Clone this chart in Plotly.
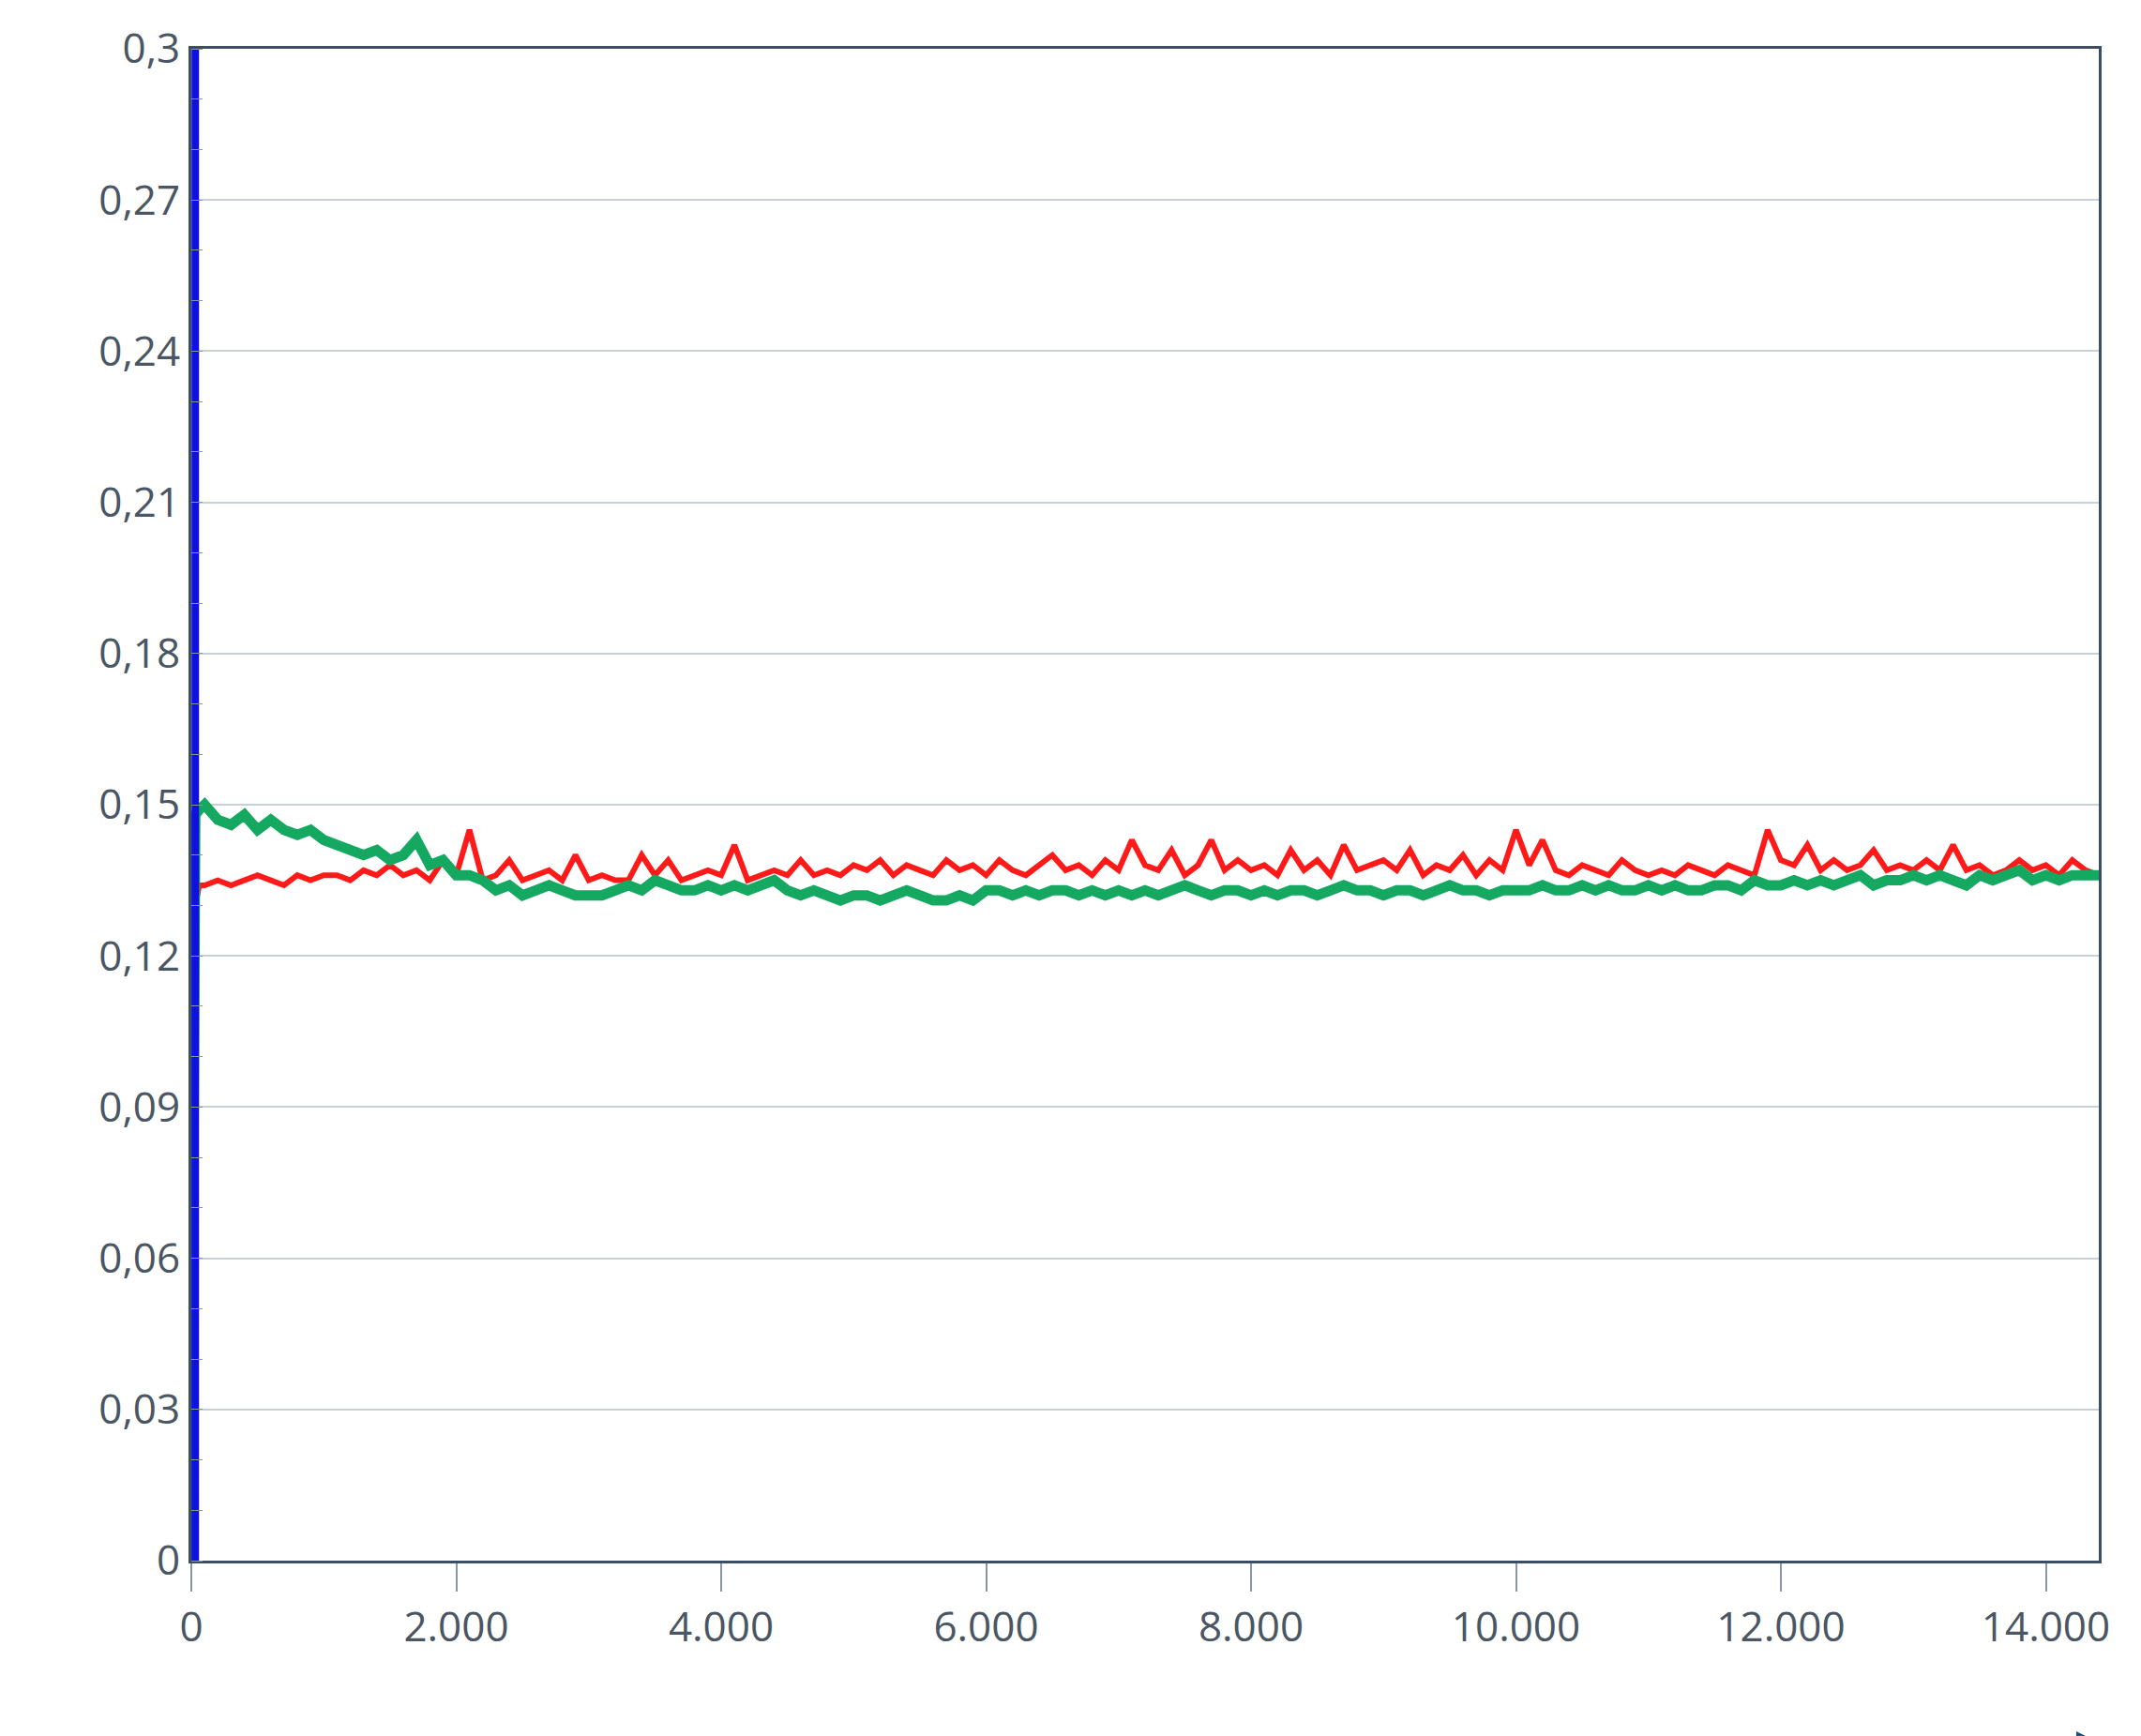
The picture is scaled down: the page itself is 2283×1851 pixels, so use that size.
import plotly.graph_objects as go

time_start = [0, 30, 60]
red_start = [0.0, 0.130, 0.134]
green_start = [0.0, 0.148, 0.149]
time_main = list(range(100, 14401, 100))
red_main = [
0.134,0.135,0.134,0.135,0.136,0.135,0.134,0.136,0.135,0.136,
0.136,0.135,0.137,0.136,0.138,0.136,0.137,0.135,0.139,0.136,
0.145,0.135,0.136,0.139,0.135,0.136,0.137,0.135,0.140,0.135,
0.136,0.135,0.135,0.140,0.136,0.139,0.135,0.136,0.137,0.136,
0.142,0.135,0.136,0.137,0.136,0.139,0.136,0.137,0.136,0.138,
0.137,0.139,0.136,0.138,0.137,0.136,0.139,0.137,0.138,0.136,
0.139,0.137,0.136,0.138,0.140,0.137,0.138,0.136,0.139,0.137,
0.143,0.138,0.137,0.141,0.136,0.138,0.143,0.137,0.139,0.137,
0.138,0.136,0.141,0.137,0.139,0.136,0.142,0.137,0.138,0.139,
0.137,0.141,0.136,0.138,0.137,0.140,0.136,0.139,0.137,0.145,
0.138,0.143,0.137,0.136,0.138,0.137,0.136,0.139,0.137,0.136,
0.137,0.136,0.138,0.137,0.136,0.138,0.137,0.136,0.145,0.139,
0.138,0.142,0.137,0.139,0.137,0.138,0.141,0.137,0.138,0.137,
0.139,0.137,0.142,0.137,0.138,0.136,0.137,0.139,0.137,0.138,
0.136,0.139,0.137,0.136]
green_main = [
0.150,0.147,0.146,0.148,0.145,0.147,0.145,0.144,0.145,0.143,
0.142,0.141,0.140,0.141,0.139,0.140,0.143,0.138,0.139,0.136,
0.136,0.135,0.133,0.134,0.132,0.133,0.134,0.133,0.132,0.132,
0.132,0.133,0.134,0.133,0.135,0.134,0.133,0.133,0.134,0.133,
0.134,0.133,0.134,0.135,0.133,0.132,0.133,0.132,0.131,0.132,
0.132,0.131,0.132,0.133,0.132,0.131,0.131,0.132,0.131,0.133,
0.133,0.132,0.133,0.132,0.133,0.133,0.132,0.133,0.132,0.133,
0.132,0.133,0.132,0.133,0.134,0.133,0.132,0.133,0.133,0.132,
0.133,0.132,0.133,0.133,0.132,0.133,0.134,0.133,0.133,0.132,
0.133,0.133,0.132,0.133,0.134,0.133,0.133,0.132,0.133,0.133,
0.133,0.134,0.133,0.133,0.134,0.133,0.134,0.133,0.133,0.134,
0.133,0.134,0.133,0.133,0.134,0.134,0.133,0.135,0.134,0.134,
0.135,0.134,0.135,0.134,0.135,0.136,0.134,0.135,0.135,0.136,
0.135,0.136,0.135,0.134,0.136,0.135,0.136,0.137,0.135,0.136,
0.135,0.136,0.136,0.136]
blue_t = [30, 30, 30]
blue_v = [0.0, 0.15, 0.31]

y_ticks = [0, 0.03, 0.06, 0.09, 0.12, 0.15, 0.18, 0.21, 0.24, 0.27, 0.3]
y_labels = ["0", "0,03", "0,06", "0,09", "0,12", "0,15", "0,18", "0,21", "0,24", "0,27", "0,3"]
x_ticks = [0, 2000, 4000, 6000, 8000, 10000, 12000, 14000]
x_labels = ["0", "2.000", "4.000", "6.000", "8.000", "10.000", "12.000", "14.000"]

fig = go.Figure()
fig.add_trace(go.Scatter(x=time_start + time_main, y=red_start + red_main, mode="lines",
                         line=dict(color="#ff1a1a", width=6)))
fig.add_trace(go.Scatter(x=time_start + time_main, y=green_start + green_main, mode="lines",
                         line=dict(color="#14a860", width=11)))
fig.add_trace(go.Scatter(x=blue_t, y=blue_v, mode="lines", line=dict(color="#1010e0", width=8)))

font = dict(family="Open Sans", size=44, color="#4a5664")
fig.update_layout(
    width=2283, height=1851, showlegend=False,
    plot_bgcolor="white", paper_bgcolor="white",
    margin=dict(l=196, r=53, t=37, b=195),
    font=font,
    xaxis=dict(range=[0, 14400], tickvals=x_ticks, ticktext=x_labels, showgrid=False,
               ticks="outside", ticklen=30, tickwidth=2, tickcolor="#8a96a4",
               showline=True, linecolor="#3a4e66", linewidth=3, mirror=True, zeroline=False),
    yaxis=dict(range=[0, 0.3], tickvals=y_ticks, ticktext=y_labels, showgrid=True,
               gridcolor="#c8d0d8", gridwidth=2, ticks="", showline=True,
               linecolor="#3a4e66", linewidth=3, mirror=True, zeroline=False,
               minor=dict(dtick=0.01, ticks="inside", ticklen=12, tickcolor="#8a96a4", showgrid=False)),
)
fig.add_annotation(x=0.855, y=-0.155, xref="paper", yref="paper", text="<i>time</i>",
                   showarrow=False, font=dict(family="Open Sans", size=50, color="#4a5664"))
fig.add_annotation(x=1.0, y=-0.155, ax=-190, ay=0, xref="paper", yref="paper",
                   axref="pixel", ayref="pixel", text="", showarrow=True,
                   arrowhead=2, arrowsize=1.2, arrowwidth=4, arrowcolor="#1f4f7a")
fig.write_html("out.html")
